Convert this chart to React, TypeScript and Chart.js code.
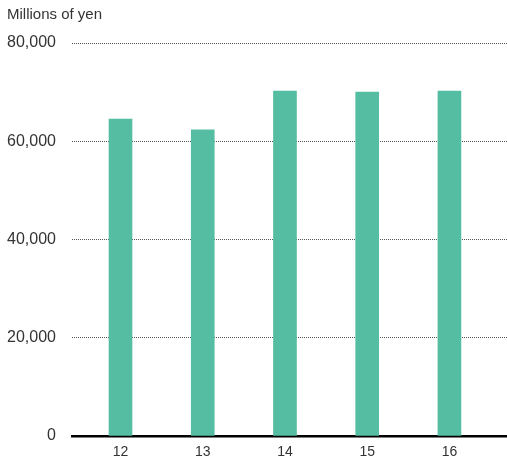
import React, { useEffect, useRef } from "react";
import { Chart, registerables } from "chart.js";

Chart.register(...registerables);

// Fiscal years and sales (millions of yen)
const years = [12, 13, 14, 15, 16];
const sales = [64500, 62300, 70200, 70000, 70200];
const yTicks = [0, 20000, 40000, 60000, 80000];
const unitLabel = "Millions of yen";

const BAR_COLOR = "#55BDA2";
const TEXT_COLOR = "#333333";
const FONT = "'Liberation Sans', Arial, Helvetica, sans-serif";

export default function App() {
  const canvasRef = useRef<HTMLCanvasElement | null>(null);

  useEffect(() => {
    if (!canvasRef.current) return;
    const chart = new Chart(canvasRef.current, {
      type: "bar",
      data: {
        datasets: [
          {
            data: years.map((x, i) => ({ x, y: sales[i] })),
            backgroundColor: BAR_COLOR,
            borderWidth: 0,
            barThickness: 23,
          },
        ],
      },
      options: {
        animation: false,
        responsive: true,
        maintainAspectRatio: false,
        layout: { padding: { left: 7, right: 0, top: 0, bottom: 0 } },
        plugins: {
          legend: { display: false },
          tooltip: { enabled: false },
          title: {
            display: true,
            text: unitLabel,
            align: "start",
            color: TEXT_COLOR,
            font: { family: FONT, size: 15, weight: "normal" },
            padding: { top: 6, bottom: 19 },
          },
        },
        scales: {
          x: {
            type: "linear",
            offset: false,
            min: 11.41,
            max: 16.7,
            grid: { display: false, drawTicks: false, offset: false },
            border: { display: true, color: "#000000", width: 2.5 },
            afterBuildTicks: (scale: any) => {
              scale.ticks = years.map((v) => ({ value: v }));
            },
            afterFit: (scale: any) => {
              scale.height = 26;
            },
            ticks: {
              color: TEXT_COLOR,
              font: { family: FONT, size: 14 },
              padding: 8,
              maxRotation: 0,
              autoSkip: false,
              callback: (v: any) => String(v),
            },
          },
          y: {
            min: 0,
            max: 80000,
            afterBuildTicks: (scale: any) => {
              scale.ticks = yTicks.map((v) => ({ value: v }));
            },
            afterFit: (scale: any) => {
              scale.width = 65;
            },
            border: { display: false, dash: [1, 1] },
            grid: {
              drawTicks: false,
              color: (ctx: any) =>
                ctx.tick && ctx.tick.value === 0 ? "rgba(0,0,0,0)" : "#555555",
              lineWidth: 1,
            },
            ticks: {
              color: TEXT_COLOR,
              font: { family: FONT, size: 16 },
              padding: 16,
              callback: (v: any) => Number(v).toLocaleString("en-US"),
            },
          },
        },
      },
    });
    return () => chart.destroy();
  }, []);

  return (
    <div
      style={{
        position: "absolute",
        left: 0,
        top: 0,
        width: 507,
        height: 462,
        background: "#ffffff",
      }}
    >
      <canvas ref={canvasRef} />
    </div>
  );
}
